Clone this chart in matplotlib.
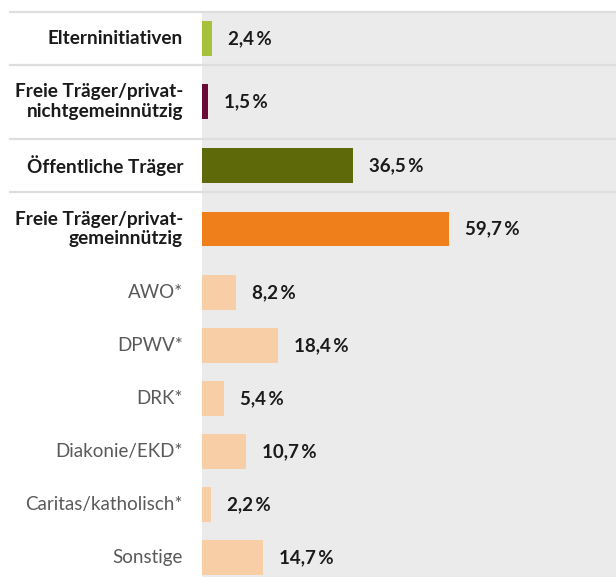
import matplotlib.pyplot as plt
from matplotlib.transforms import blended_transform_factory

# data
labels = ['Elterninitiativen', 'Freie Träger/privat-\nnichtgemeinnützig', 'Öffentliche Träger',
          'Freie Träger/privat-\ngemeinnützig', 'AWO*', 'DPWV*', 'DRK*', 'Diakonie/EKD*',
          'Caritas/katholisch*', 'Sonstige']
values = [2.4, 1.5, 36.5, 59.7, 8.2, 18.4, 5.4, 10.7, 2.2, 14.7]
is_main = [True, True, True, True, False, False, False, False, False, False]
colors = ['#a6c23a', '#6b0a36', '#5e6a0a', '#ee7f1b'] + ['#f8cea7'] * 6

# layout (pixel units, y grows downward)
W, H = 616, 577
row_gaps = [63, 64, 63.5, 63.5, 53, 53, 53, 53, 53]
ypos = [38.5]
for g in row_gaps:
    ypos.append(ypos[-1] + g)
separators = [12, 64.5, 138.5, 192]

plt.rcParams['font.family'] = ['Lato', 'DejaVu Sans']

fig = plt.figure(figsize=(W / 100, H / 100), dpi=100)
fig.patch.set_facecolor('white')
ax = fig.add_axes([202 / W, 0, 1 - 202 / W, 1 - 13 / H])
ax.set_facecolor('#ebebeb')
ax.set_xlim(0, 100)
ax.set_ylim(H, 13)
for s in ax.spines.values():
    s.set_visible(False)
ax.set_xticks([])
ax.set_yticks([])

ax.barh(ypos, values, height=34.5, color=colors, zorder=2)

px = 100 / (W - 202)  # data units per pixel
for y, v, lab, main in zip(ypos, values, labels, is_main):
    ax.text(v + 16 * px, y, f'{v:.1f}'.replace('.', ',') + '\u2009%',
            va='center', ha='left', fontsize=13.5, fontweight='bold', color='#1a1a1a')
    ax.text(-19 * px, y, lab, va='center', ha='right',
            fontsize=13.7 if main else 13.5,
            fontweight='bold' if main else 'normal',
            color='#1a1a1a' if main else '#5a5a5a', linespacing=1.2, clip_on=False)

trans = blended_transform_factory(fig.transFigure, ax.transData)
for s in separators:
    ax.plot([10 / W, 1], [s, s], transform=trans, color='#dedede', lw=1.6,
            clip_on=False, zorder=3)

fig.savefig('out.png', dpi=100)
